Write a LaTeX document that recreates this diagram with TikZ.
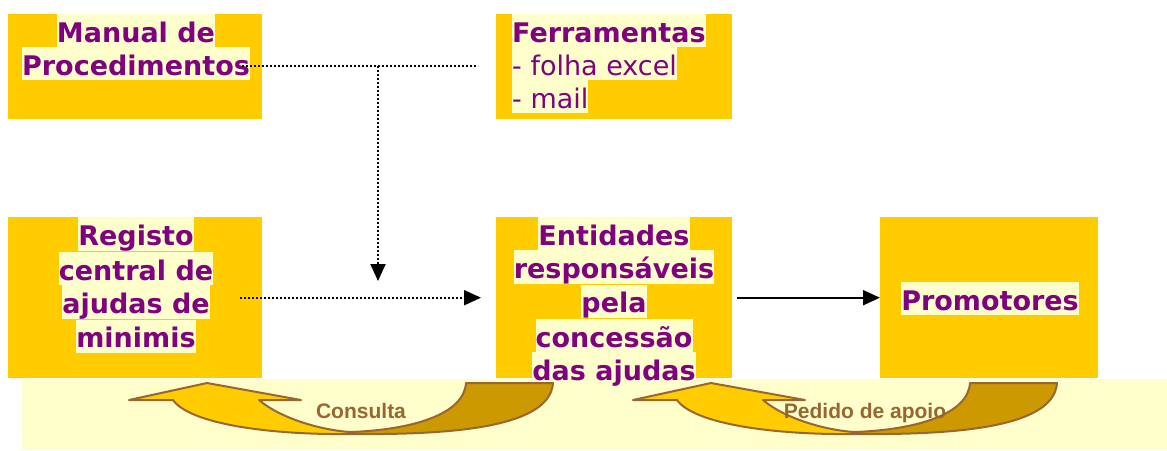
\documentclass[tikz,border=0pt]{standalone}
\usepackage{fontspec}
\setmainfont{DejaVu Sans}
\newfontfamily\libsans{Liberation Sans}
\usetikzlibrary{arrows.meta}
\definecolor{boxy}{HTML}{FFCC00}
\definecolor{hly}{HTML}{FFFFCC}
\definecolor{purp}{HTML}{800080}
\definecolor{darky}{HTML}{CC9900}
\definecolor{brn}{HTML}{996633}
\newcommand{\hlx}[1]{{\setlength{\fboxsep}{0pt}\colorbox{hly}{\rule[-5pt]{0pt}{33pt}#1}}}
\begin{document}
\begin{tikzpicture}[x=1pt,y=-1pt,
  ybox/.style={fill=boxy, draw=none, inner sep=0pt, anchor=north west},
  lbl/.style={inner sep=0pt, text=purp, font=\fontsize{27}{33}\selectfont\bfseries},
  dotline/.style={draw=black, line width=2pt, dash pattern=on 2pt off 2pt},
  tipd/.style={-{Triangle[length=17pt,width=15pt]}},
  arrtext/.style={inner sep=0pt, anchor=base, text=brn, font=\libsans\fontsize{21}{25}\selectfont\bfseries},
  curvarrow/.pic={
    \draw[fill=darky, draw=brn, line width=2pt, line join=round]
      (350,432) .. controls (410,430) and (464,415) .. (466,383) -- (553,383)
      .. controls (550,428) and (450,435) .. (350,434) -- cycle;
    \draw[fill=boxy, draw=brn, line width=2pt, line join=round]
      (207,383) -- (301,400) -- (259,400) .. controls (280,418) and (320,430) .. (350,432)
      -- (350,434) .. controls (270,435) and (190,424) .. (173,400) -- (129,400) -- cycle;
  }]
\useasboundingbox (0,0) rectangle (1167,450);
\fill[white] (0,0) rectangle (1167,450);

% bottom band
\fill[hly] (22,379) rectangle (1167,450);

% boxes
\node[ybox, minimum width=254pt, minimum height=105pt] (b1) at (8,14) {};
\node[ybox, minimum width=236pt, minimum height=105pt] (b2) at (496,14) {};
\node[ybox, minimum width=254pt, minimum height=161pt] (b3) at (8,217) {};
\node[ybox, minimum width=236pt, minimum height=161pt] (b4) at (496,217) {};
\node[ybox, minimum width=218pt, minimum height=161pt] (b5) at (880,217) {};

% texts
\node[lbl, align=center, anchor=north] (t1) at (136,14) {\hlx{Manual de}\\\hlx{Procedimentos}};
\node[lbl, align=left, anchor=north west] (t2) at (512,14) {\hlx{Ferramentas}\\\hlx{\mdseries - folha excel}\\\hlx{\mdseries - mail}};
\node[lbl, align=center, anchor=north] (t3) at (136,217) {\hlx{Registo}\\\hlx{central de}\\\hlx{ajudas de}\\\hlx{minimis}};
\node[lbl, align=center, anchor=north] (t4) at (614,217) {\hlx{Entidades}\\\hlx{responsáveis}\\\hlx{pela}\\\hlx{concessão}\\\hlx{das ajudas}};
\node[lbl, anchor=center] (t5) at (990,298.5) {\hlx{Promotores}};

% connectors
\coordinate (p0) at (242,66);
\coordinate (p1) at (478,66);
\coordinate (pj) at (378,66);
\coordinate (pv) at (378,281);
\draw[dotline] (p0) -- (p1);
\draw[dotline, tipd] (pj) -- (pv);
\draw[dotline, tipd] ([xshift=-22pt]b3.east) -- ([xshift=-15pt]b4.west);
\draw[line width=2pt, tipd] ([xshift=5pt]b4.east) -- (b5.west);

% curved arrows
\pic at (0,0) {curvarrow};
\pic at (504,0) {curvarrow};
\node[arrtext] (l1) at (361,418) {Consulta};
\node[arrtext] (l2) at (865,418) {Pedido de apoio};
\end{tikzpicture}
\end{document}
